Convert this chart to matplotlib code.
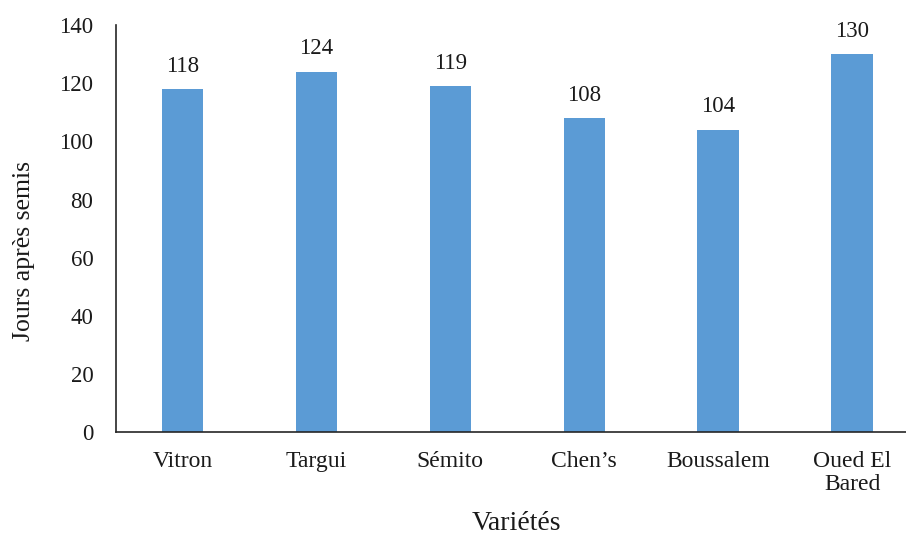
import matplotlib.pyplot as plt
import numpy as np

plt.rcParams['font.family'] = ['Liberation Serif', 'DejaVu Serif']

varietes = ["Vitron", "Targui", "Sémito", "Chen’s", "Boussalem", "Oued El\nBared"]
jours = [118, 124, 119, 108, 104, 130]
yticks = [0, 20, 40, 60, 80, 100, 120, 140]

fig = plt.figure(figsize=(9.06, 5.35), dpi=100)
# axes run slightly past the right edge of the figure
ax = fig.add_axes([0.1275, 0.1925, 0.887, 0.7605])

x = np.arange(len(varietes))
bars = ax.bar(x, jours, width=0.31, color="#5B9BD5")

for rect, v in zip(bars, jours):
    ax.annotate(str(v), xy=(rect.get_x() + rect.get_width() / 2, v),
                xytext=(0, 9), textcoords="offset points",
                ha="center", va="bottom", fontsize=16.5, color="#1a1a1a")

ax.set_xlim(-0.5, len(varietes) - 0.5)
ax.set_ylim(0, 140)
ax.set_yticks(yticks)
ax.set_xticks(x)
ax.set_xticklabels(varietes, linespacing=1.1)
ax.tick_params(axis="both", length=0, colors="#1a1a1a")
ax.tick_params(axis="y", pad=16, labelsize=16.5)
ax.tick_params(axis="x", pad=14, labelsize=17)

for pos in ["top", "right"]:
    ax.spines[pos].set_visible(False)
for pos in ["left", "bottom"]:
    ax.spines[pos].set_color("#262626")
    ax.spines[pos].set_linewidth(1.2)

fig.text(0.027, 0.531, "Jours après semis", rotation="vertical",
         ha="center", va="center", fontsize=18.5, color="#1a1a1a")
fig.text(0.57, 0.022, "Variétés", ha="center", va="center",
         fontsize=20, color="#1a1a1a")

fig.savefig("out.png", dpi=100)
